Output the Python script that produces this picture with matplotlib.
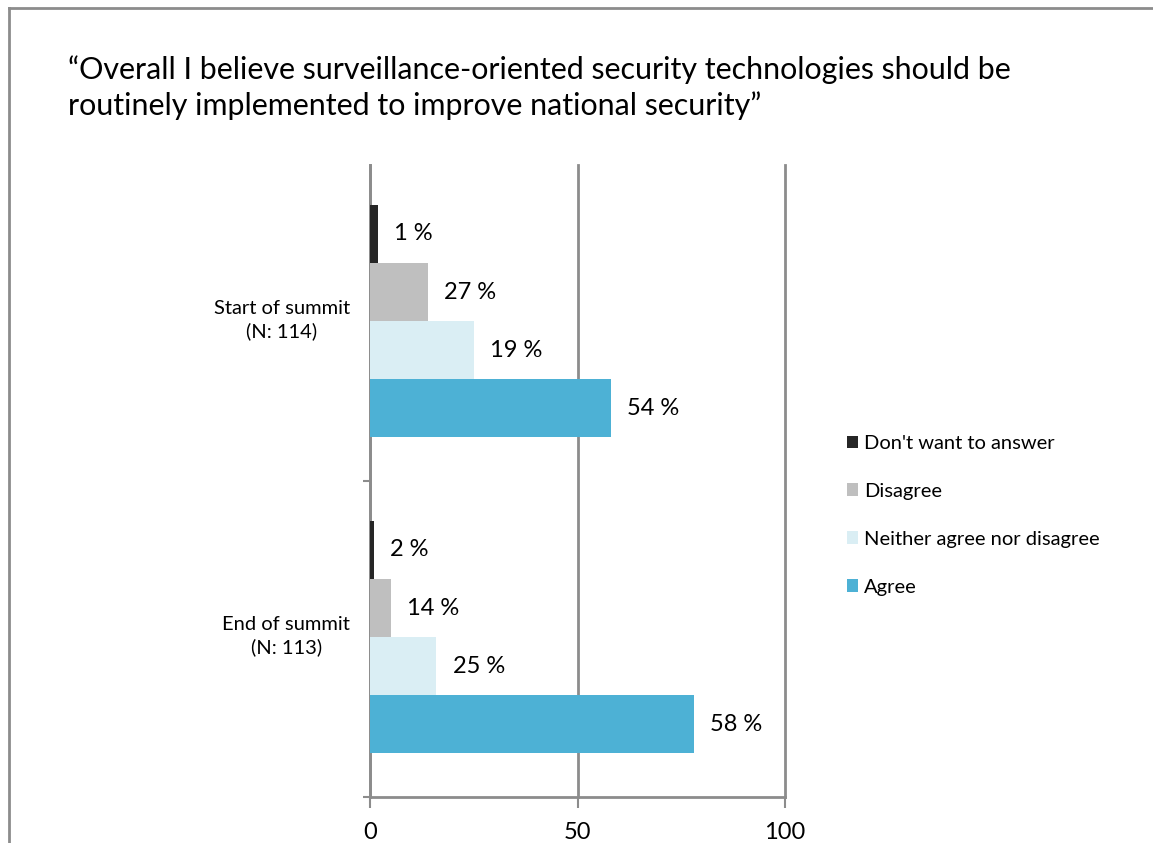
import numpy as np
import matplotlib
matplotlib.use("Agg")
import matplotlib.pyplot as plt
from matplotlib.lines import Line2D
from matplotlib.patches import Patch

plt.rcParams["font.family"] = ["Lato", "DejaVu Sans"]

# data
groups = ["Start of summit\n(N: 114)", "End of summit\n(N: 113)"]
answers = ["Don't want to answer", "Disagree", "Neither agree nor disagree", "Agree"]
colors = ["#262626", "#bfbfbf", "#daeef4", "#4db1d5"]
# bar lengths as drawn
start_vals = [2, 14, 25, 58]
end_vals = [1, 5, 16, 78]
# labels as printed
start_labels = ["1 %", "27 %", "19 %", "54 %"]
end_labels = ["2 %", "14 %", "25 %", "58 %"]

fig = plt.figure(figsize=(11.53, 8.43), dpi=100)
ax = fig.add_axes([370 / 1153, 1 - 797 / 843, 415 / 1153, 632 / 843])

bar_h = 0.184
offsets = (np.arange(4) - 1.5) * bar_h
series = [start_vals, end_vals]
labels = [start_labels, end_labels]
for g in range(2):
    for i in range(4):
        y = g + offsets[i] - 0.006
        ax.barh(y, series[g][i], height=bar_h, color=colors[i], edgecolor="none", zorder=3)
        ax.text(series[g][i] + 3.9, y, labels[g][i], va="center", ha="left", fontsize=17, zorder=4)

ax.set_xlim(0, 100)
ax.set_ylim(1.5, -0.5)
ax.set_xticks([0, 50, 100])
ax.tick_params(axis="x", length=8, width=1.5, color="#8c8c8c", labelsize=17, pad=10)
ax.set_yticks([0.5, 1.5])
ax.set_yticklabels([])
ax.tick_params(axis="y", length=5, width=1.5, color="#8c8c8c")
ax.grid(axis="x", color="#8c8c8c", linewidth=2, zorder=1)
for gl in ax.get_xgridlines():
    gl.set_clip_on(False)
for s in ["top", "right"]:
    ax.spines[s].set_visible(False)
for s in ["left", "bottom"]:
    ax.spines[s].set_color("#8c8c8c")
    ax.spines[s].set_linewidth(2)

for g in range(2):
    ax.text(-4.8, g - 0.01, groups[g], ha="right", va="center", multialignment="center",
            fontsize=14.5, linespacing=1.35)

handles = [Patch(facecolor=c, edgecolor="none") for c in colors]
fig.legend(handles, answers, loc="upper left", bbox_to_anchor=(837 / 1153, 1 - 425 / 843),
           frameon=False, fontsize=14.5, handlelength=0.55, handleheight=0.6,
           handletextpad=0.3, labelspacing=1.53, borderpad=0)

fig.text(68 / 1153, 1 - 55 / 843,
         "\u201cOverall I believe surveillance-oriented security technologies should be\n"
         "routinely implemented to improve national security\u201d",
         ha="left", va="top", fontsize=21.9, linespacing=1.3)

# frame around the chart
fig.add_artist(Line2D([8.5 / 1153, 8.5 / 1153], [0, 1 - 7.5 / 843], color="#8c8c8c", lw=2))
fig.add_artist(Line2D([8.5 / 1153, 1], [1 - 7.5 / 843, 1 - 7.5 / 843], color="#8c8c8c", lw=2))

fig.savefig("out.png", dpi=100)
